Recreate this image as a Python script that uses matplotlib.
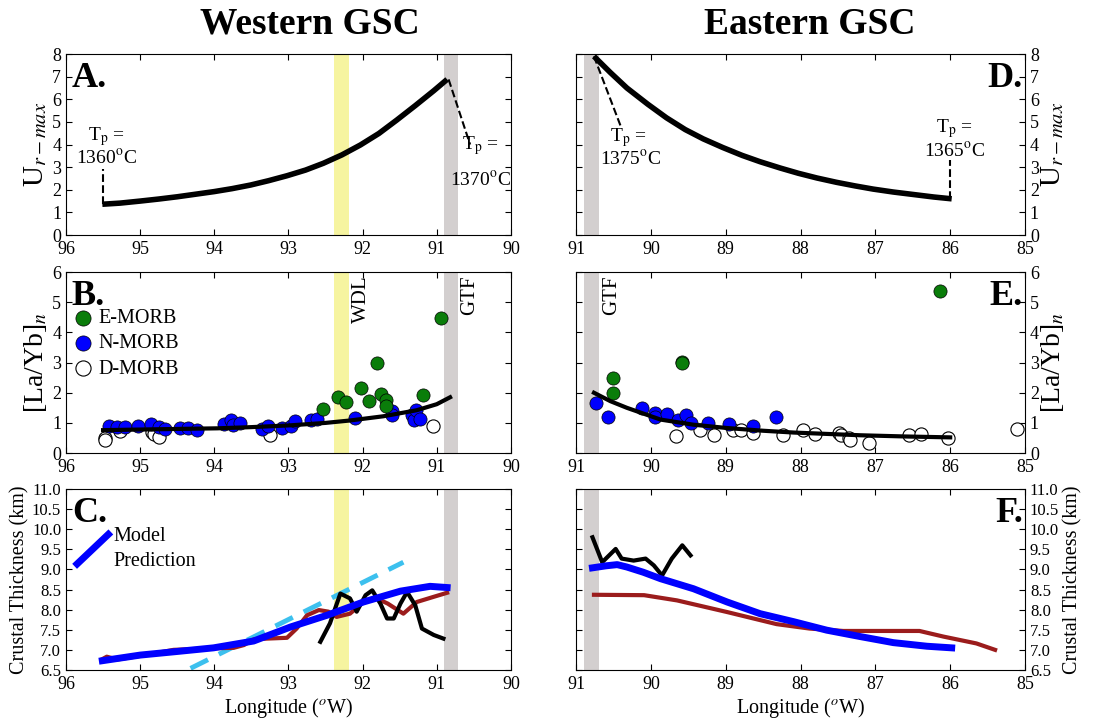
import matplotlib
matplotlib.use("Agg")
import matplotlib.pyplot as plt
from matplotlib.lines import Line2D
from matplotlib.legend_handler import HandlerLine2D

plt.rcParams['font.family'] = ['Liberation Serif', 'DejaVu Serif']
plt.rcParams['mathtext.fontset'] = 'stix'
plt.rcParams['xtick.direction'] = 'in'
plt.rcParams['ytick.direction'] = 'in'
plt.rcParams['xtick.top'] = True
plt.rcParams['ytick.right'] = True
plt.rcParams['xtick.major.size'] = 4
plt.rcParams['ytick.major.size'] = 4
plt.rcParams['xtick.major.pad'] = 4.5
plt.rcParams['font.size'] = 13

# --- data: western GSC ---
west_ur_lon = [95.51, 95.27, 95.0, 94.75, 94.5, 94.26, 94.0, 93.76, 93.51, 93.27, 93.02, 92.77,
               92.53, 92.28, 92.03, 91.78, 91.54, 91.29, 91.04, 90.86]
west_ur_val = [1.36, 1.41, 1.5, 1.59, 1.69, 1.8, 1.92, 2.05, 2.21, 2.4, 2.62, 2.87,
               3.17, 3.54, 3.98, 4.49, 5.08, 5.72, 6.38, 6.88]

west_trend_lon = [95.5, 95.0, 94.5, 93.96, 93.5, 92.97, 92.5, 92.17, 91.72, 91.27, 91.0, 90.82]
west_trend_val = [0.76, 0.78, 0.8, 0.82, 0.86, 0.92, 1.0, 1.08, 1.22, 1.42, 1.62, 1.85]

west_e_lon = [92.53, 92.33, 92.23, 92.02, 91.91, 91.8, 91.75, 91.68, 91.68, 91.18, 90.94]
west_e_val = [1.45, 1.86, 1.69, 2.15, 1.72, 2.99, 1.95, 1.75, 1.55, 1.92, 4.48]
west_n_lon = [95.42, 95.31, 95.2, 95.03, 94.86, 94.75, 94.66, 94.46, 94.35, 94.23, 93.87, 93.77,
              93.75, 93.66, 93.36, 93.27, 93.09, 92.97, 92.91, 92.69, 92.62, 92.1, 91.6, 91.6,
              91.33, 91.31, 91.28, 91.23]
west_n_val = [0.89, 0.86, 0.86, 0.89, 0.95, 0.86, 0.81, 0.84, 0.84, 0.78, 0.95, 1.08,
              0.92, 0.99, 0.81, 0.89, 0.84, 0.89, 1.05, 1.1, 1.12, 1.16, 1.39, 1.25,
              1.27, 1.08, 1.44, 1.14]
west_d_lon = [95.48, 95.48, 95.27, 94.84, 94.81, 94.74, 93.25, 91.05]
west_d_val = [0.51, 0.42, 0.73, 0.7, 0.64, 0.53, 0.59, 0.89]

west_model_lon = [95.51, 95.0, 94.5, 94.01, 93.47, 92.97, 92.48, 91.99, 91.49, 91.09, 90.86]
west_model_val = [6.73, 6.87, 6.96, 7.05, 7.22, 7.57, 7.86, 8.19, 8.46, 8.58, 8.55]
west_obs_lon = [95.51, 95.45, 95.31, 95.0, 94.55, 94.01, 93.74, 93.6, 93.47, 93.29, 93.02, 92.89,
                92.75, 92.59, 92.46, 92.35, 92.17, 91.99, 91.81, 91.66, 91.45, 91.27, 91.04, 90.86]
west_obs_val = [6.77, 6.83, 6.76, 6.85, 7.0, 7.04, 7.05, 7.12, 7.26, 7.28, 7.3, 7.53,
                7.86, 7.99, 7.95, 7.82, 7.9, 8.19, 8.28, 8.15, 7.9, 8.19, 8.32, 8.42]
west_seis_lon = [92.57, 92.44, 92.3, 92.17, 92.08, 91.96, 91.87, 91.76, 91.67, 91.58, 91.49,
                 91.4, 91.29, 91.2, 91.04, 90.91]
west_seis_val = [7.2, 7.66, 8.4, 8.28, 7.95, 8.36, 8.48, 8.15, 7.78, 7.78, 8.15,
                 8.44, 8.11, 7.53, 7.37, 7.28]
west_fit_lon = [94.32, 91.45]
west_fit_val = [6.54, 9.18]

# --- data: eastern GSC ---
east_ur_lon = [90.76, 90.54, 90.32, 90.04, 89.79, 89.54, 89.3, 89.04, 88.78, 88.54, 88.27, 88.03,
               87.78, 87.52, 87.27, 87.03, 86.76, 86.49, 86.22, 85.98]
east_ur_val = [7.9, 7.18, 6.5, 5.78, 5.18, 4.66, 4.25, 3.87, 3.52, 3.24, 2.96, 2.73,
               2.52, 2.33, 2.17, 2.03, 1.9, 1.79, 1.68, 1.6]

east_trend_lon = [90.76, 90.54, 90.32, 89.87, 89.43, 88.98, 88.5, 88.09, 87.6, 87.2, 86.6, 86.0]
east_trend_val = [2.0, 1.72, 1.5, 1.11, 0.94, 0.83, 0.74, 0.68, 0.63, 0.59, 0.55, 0.52]

east_e_lon = [90.5, 90.5, 89.58, 89.58, 86.14]
east_e_val = [2.48, 1.98, 3.03, 2.98, 5.37]
east_n_lon = [90.73, 90.57, 90.12, 89.95, 89.95, 89.78, 89.64, 89.53, 89.47, 89.23, 88.96, 88.64, 88.33]
east_n_val = [1.67, 1.2, 1.48, 1.33, 1.2, 1.28, 1.11, 1.25, 1.0, 1.0, 0.98, 0.89, 1.19]
east_d_lon = [89.66, 89.34, 89.16, 88.9, 88.79, 88.64, 88.24, 87.97, 87.81, 87.49, 87.46, 87.35,
              87.34, 87.09, 86.55, 86.39, 86.03, 85.11]
east_d_val = [0.55, 0.78, 0.61, 0.76, 0.78, 0.67, 0.59, 0.78, 0.64, 0.67, 0.61, 0.5,
              0.44, 0.33, 0.59, 0.64, 0.5, 0.81]

east_model_lon = [90.78, 90.6, 90.45, 90.32, 90.1, 89.87, 89.43, 88.98, 88.54, 88.09, 87.65, 87.2, 86.76, 86.31, 85.98]
east_model_val = [9.04, 9.09, 9.12, 9.06, 8.93, 8.77, 8.52, 8.19, 7.9, 7.7, 7.49, 7.33, 7.18, 7.09, 7.05]
east_obs_lon = [90.76, 90.09, 89.65, 88.98, 88.32, 87.88, 87.43, 86.76, 86.41, 86.09, 85.65, 85.4]
east_obs_val = [8.37, 8.36, 8.23, 7.94, 7.64, 7.53, 7.47, 7.47, 7.47, 7.33, 7.16, 7.0]
east_seis_lon = [90.78, 90.65, 90.47, 90.39, 90.23, 90.07, 89.96, 89.85, 89.72, 89.58, 89.47]
east_seis_val = [9.8, 9.18, 9.51, 9.27, 9.22, 9.27, 9.1, 8.85, 9.27, 9.6, 9.35]

thick_ticks = [6.5, 7.0, 7.5, 8.0, 8.5, 9.0, 9.5, 10.0, 10.5, 11.0]

YELLOW = '#f6f4a0'
GREY = '#d3cfcf'
RED = '#9b1c1c'
CYAN = '#3cc0ee'
BLUE = '#0000ff'
GREEN = '#0a7d0a'

fig = plt.figure(figsize=(11.15, 7.18), dpi=100)
lefts = [0.0592, 0.5166]
widths = [0.399, 0.4027]
bottoms = [0.6727, 0.369, 0.0669]
height = 0.252
axes = [[fig.add_axes([lefts[c], bottoms[r], widths[c], height]) for c in range(2)] for r in range(3)]

fig.text(0.278, 0.966, 'Western GSC', ha='center', va='center', fontsize=27, fontweight='bold')
fig.text(0.7265, 0.966, 'Eastern GSC', ha='center', va='center', fontsize=27, fontweight='bold')


def panel_letter(ax, s, right=False):
    if right:
        ax.text(0.995, 0.955, s, transform=ax.transAxes, ha='right', va='top', fontsize=26, fontweight='bold')
    else:
        ax.text(0.013, 0.955, s, transform=ax.transAxes, ha='left', va='top', fontsize=26, fontweight='bold')


def setup(ax, xlim, ylim, yticks, right=False):
    ax.set_xlim(*xlim)
    ax.set_ylim(*ylim)
    ax.set_yticks(yticks)
    if right:
        ax.tick_params(labelleft=False, labelright=True)
        ax.yaxis.set_label_position('right')


# ---------- A ----------
ax = axes[0][0]
ax.axvspan(92.38, 92.18, color=YELLOW, lw=0)
ax.axvspan(90.9, 90.71, color=GREY, lw=0)
ax.plot(west_ur_lon, west_ur_val, color='k', lw=4, solid_capstyle='butt')
ax.plot([95.5, 95.5], [1.36, 2.9], 'k--', lw=1.5)
ax.plot([90.84, 90.55], [6.88, 4.0], 'k--', lw=1.5)
ax.text(95.45, 4.35, 'T$_{\\rm p}$ =', ha='center', va='center', fontsize=14)
ax.text(95.45, 3.4, '1360$^{\\rm o}$C', ha='center', va='center', fontsize=14)
ax.text(90.41, 3.95, 'T$_{\\rm p}$ =', ha='center', va='center', fontsize=14)
ax.text(90.41, 2.45, '1370$^{\\rm o}$C', ha='center', va='center', fontsize=14)
setup(ax, (96, 90), (0, 8), range(0, 9))
ax.set_ylabel('U$_{r-max}$', fontsize=21, labelpad=2)
panel_letter(ax, 'A.')

# ---------- D ----------
ax = axes[0][1]
ax.axvspan(90.89, 90.69, color=GREY, lw=0)
ax.plot(east_ur_lon, east_ur_val, color='k', lw=4, solid_capstyle='butt')
ax.plot([90.76, 90.39], [7.9, 4.7], 'k--', lw=1.5)
ax.plot([86.0, 86.0], [1.6, 3.3], 'k--', lw=1.5)
ax.text(90.3, 4.33, 'T$_{\\rm p}$ =', ha='center', va='center', fontsize=14)
ax.text(90.27, 3.36, '1375$^{\\rm o}$C', ha='center', va='center', fontsize=14)
ax.text(85.94, 4.7, 'T$_{\\rm p}$ =', ha='center', va='center', fontsize=14)
ax.text(85.94, 3.74, '1365$^{\\rm o}$C', ha='center', va='center', fontsize=14)
setup(ax, (91, 85), (0, 8), range(0, 9), right=True)
ax.set_ylabel('U$_{r-max}$', fontsize=21, labelpad=0)
panel_letter(ax, 'D.', right=True)

# ---------- B ----------
ax = axes[1][0]
ax.axvspan(92.38, 92.18, color=YELLOW, lw=0)
ax.axvspan(90.9, 90.71, color=GREY, lw=0)
hd = ax.scatter(west_d_lon, west_d_val, s=90, facecolor='white', edgecolor='k', lw=0.8, label='D-MORB', zorder=3)
hn = ax.scatter(west_n_lon, west_n_val, s=90, facecolor=BLUE, edgecolor='k', lw=0.5, label='N-MORB', zorder=3)
he = ax.scatter(west_e_lon, west_e_val, s=90, facecolor=GREEN, edgecolor='k', lw=0.5, label='E-MORB', zorder=3)
ax.plot(west_trend_lon, west_trend_val, color='k', lw=3, zorder=4)
ax.text(92.01, 5.88, 'WDL', rotation=90, ha='center', va='top', fontsize=15)
ax.text(90.55, 5.88, 'GTF', rotation=90, ha='center', va='top', fontsize=15)
setup(ax, (96, 90), (0, 6), range(0, 7))
ax.set_ylabel('[La/Yb]$_n$', fontsize=20, labelpad=2)
panel_letter(ax, 'B.')
ax.legend(handles=[he, hn, hd], loc='upper left', bbox_to_anchor=(0.016, 0.795), frameon=False,
          fontsize=14.5, handlelength=1.0, handletextpad=0.25, labelspacing=0.3, borderpad=0.0,
          borderaxespad=0.0, scatterpoints=1, markerscale=1.15)

# ---------- E ----------
ax = axes[1][1]
ax.axvspan(90.89, 90.69, color=GREY, lw=0)
ax.scatter(east_d_lon, east_d_val, s=90, facecolor='white', edgecolor='k', lw=0.8, zorder=3)
ax.scatter(east_n_lon, east_n_val, s=90, facecolor=BLUE, edgecolor='k', lw=0.5, zorder=3)
ax.scatter(east_e_lon, east_e_val, s=90, facecolor=GREEN, edgecolor='k', lw=0.5, zorder=3)
ax.plot(east_trend_lon, east_trend_val, color='k', lw=3, zorder=4)
ax.text(90.52, 5.88, 'GTF', rotation=90, ha='center', va='top', fontsize=15)
setup(ax, (91, 85), (0, 6), range(0, 7), right=True)
ax.set_ylabel('[La/Yb]$_n$', fontsize=20, labelpad=0)
panel_letter(ax, 'E.', right=True)


class DiagHandler(HandlerLine2D):
    def create_artists(self, legend, orig_handle, xdescent, ydescent, width, height, fontsize, trans):
        line = Line2D([-xdescent, width - xdescent], [-ydescent - height * 0.55, height * 1.55 - ydescent])
        self.update_prop(line, orig_handle, legend)
        line.set_transform(trans)
        return [line]


# ---------- C ----------
ax = axes[2][0]
ax.axvspan(92.38, 92.18, color=YELLOW, lw=0)
ax.axvspan(90.9, 90.71, color=GREY, lw=0)
ax.plot(west_fit_lon, west_fit_val, color=CYAN, lw=3.5, dashes=(4, 2.5))
ax.plot(west_obs_lon, west_obs_val, color=RED, lw=3)
ax.plot(west_seis_lon, west_seis_val, color='k', lw=3)
hm, = ax.plot(west_model_lon, west_model_val, color=BLUE, lw=5, label='Model\nPrediction')
setup(ax, (96, 90), (6.5, 11), thick_ticks)
ax.set_yticklabels(['%.1f' % v for v in thick_ticks], fontsize=12)
ax.set_ylabel('Crustal Thickness (km)', fontsize=14.5, labelpad=2)
ax.set_xlabel('Longitude ($^o$W)', fontsize=14.5, labelpad=2)
panel_letter(ax, 'C.')
leg = ax.legend(handles=[hm], loc='upper left', bbox_to_anchor=(0.025, 0.79), frameon=False,
                fontsize=14.5, handlelength=1.55, handletextpad=0.25, borderpad=0.0, borderaxespad=0.0,
                labelspacing=0.0, handler_map={Line2D: DiagHandler()})
leg.get_texts()[0].set_linespacing(1.45)

# ---------- F ----------
ax = axes[2][1]
ax.axvspan(90.89, 90.69, color=GREY, lw=0)
ax.plot(east_obs_lon, east_obs_val, color=RED, lw=3)
ax.plot(east_seis_lon, east_seis_val, color='k', lw=3)
ax.plot(east_model_lon, east_model_val, color=BLUE, lw=5)
setup(ax, (91, 85), (6.5, 11), thick_ticks, right=True)
ax.set_yticklabels(['%.1f' % v for v in thick_ticks], fontsize=12)
ax.set_ylabel('Crustal Thickness (km)', fontsize=14.5, labelpad=3)
ax.set_xlabel('Longitude ($^o$W)', fontsize=14.5, labelpad=2)
panel_letter(ax, 'F.', right=True)

fig.savefig('out.png', dpi=100)
